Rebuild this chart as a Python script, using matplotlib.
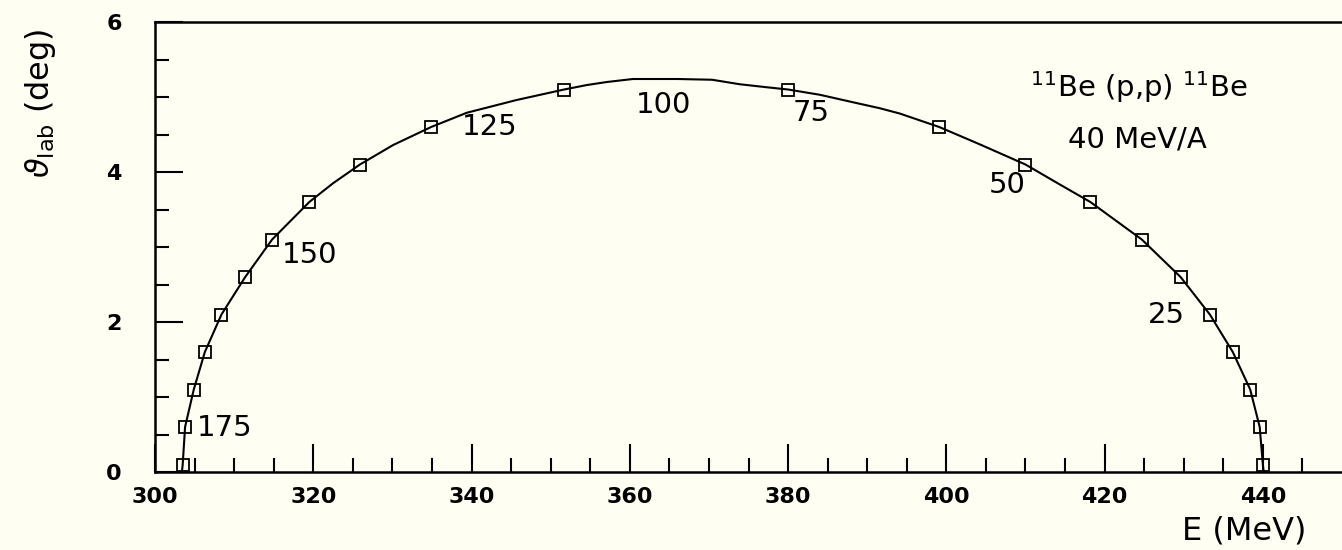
import numpy as np
import matplotlib.pyplot as plt

# カーブ上の読み取り点 (E [MeV], theta_lab [deg])
curve_e = [303.4, 303.5, 303.8, 304.9, 306.3, 308.4, 311.4, 314.8, 319.5, 322.5,
           325.9, 330.1, 334.9, 339.4, 345.7, 351.7, 354.6, 357.1, 360.4, 366.0,
           370.4, 373.9, 377.3, 380.0, 384.0, 388.2, 391.6, 394.1, 399.1, 404.2,
           410.0, 414.4, 418.2, 424.7, 429.6, 433.3, 436.2, 438.4, 439.6, 440.0,
           440.1]
curve_theta = [0.0, 0.1, 0.6, 1.1, 1.6, 2.1, 2.6, 3.1, 3.6, 3.85,
               4.1, 4.36, 4.6, 4.79, 4.96, 5.1, 5.16, 5.2, 5.24, 5.24,
               5.23, 5.17, 5.13, 5.1, 5.03, 4.93, 4.85, 4.78, 4.6, 4.37,
               4.1, 3.83, 3.6, 3.1, 2.6, 2.1, 1.6, 1.1, 0.6, 0.1,
               0.0]

# マーカー位置
mark_e = [303.5, 303.8, 304.9, 306.3, 308.4, 311.4, 314.8, 319.5, 325.9, 334.9, 351.7,
          380.0, 399.1, 410.0, 418.2, 424.7, 429.6, 433.3, 436.2, 438.4, 439.6, 440.0]
mark_theta = [0.1, 0.6, 1.1, 1.6, 2.1, 2.6, 3.1, 3.6, 4.1, 4.6, 5.1,
              5.1, 4.6, 4.1, 3.6, 3.1, 2.6, 2.1, 1.6, 1.1, 0.6, 0.1]

# 重心系角度のラベル
cm_labels = ['175', '150', '125', '100', '75', '50', '25']
cm_label_e = [305.3, 316.0, 338.8, 360.7, 380.6, 405.3, 425.5]
cm_label_theta = [0.48, 2.79, 4.49, 4.79, 4.68, 3.72, 1.99]

bg = '#fefef3'
fig = plt.figure(figsize=(13.42, 5.5), dpi=100, facecolor=bg)
ax = fig.add_axes([155 / 1342, 1 - 472 / 550, 1 - 155 / 1342, 450 / 550])
ax.set_facecolor(bg)

# カーブとマーカー
ax.plot(curve_e, curve_theta, color='black', lw=1.5)
ax.plot(mark_e, mark_theta, linestyle='none', marker='s', markersize=9,
        markerfacecolor='none', markeredgecolor='black', markeredgewidth=1.3)

for lab, xe, yt in zip(cm_labels, cm_label_e, cm_label_theta):
    ax.text(xe, yt, lab, fontsize=21, ha='left', va='baseline')

ax.text(410.6, 5.0, r'$^{11}$Be (p,p) $^{11}$Be', fontsize=21, ha='left', va='baseline')
ax.text(415.4, 4.32, '40 MeV/A', fontsize=21, ha='left', va='baseline')

# 軸
ax.set_xlim(300, 450)
ax.set_ylim(0, 6)
ax.set_xticks([300, 320, 340, 360, 380, 400, 420, 440])
ax.set_xticks(np.arange(305, 450, 5), minor=True)
ax.set_yticks([0, 2, 4, 6])
ax.set_yticks(np.arange(0.5, 6, 0.5), minor=True)
ax.tick_params(which='both', direction='in', width=1.5, color='black')
ax.tick_params(which='major', length=20)
ax.tick_params(which='minor', length=10)
ax.tick_params(axis='x', pad=11, labelsize=16)
ax.tick_params(axis='y', pad=24, labelsize=16)
for t in ax.get_xticklabels() + ax.get_yticklabels():
    t.set_fontweight('bold')

ax.spines['right'].set_visible(False)
for s in ['left', 'bottom', 'top']:
    ax.spines[s].set_linewidth(1.8)

fig.text(40 / 1342, 1 - 28 / 550, r'$\vartheta_{\rm lab}$ (deg)', fontsize=23,
         rotation=90, ha='center', va='top')
fig.text(1182 / 1342, 1 - 540 / 550, 'E (MeV)', fontsize=23, ha='left', va='baseline')

fig.savefig('out.png', dpi=100, facecolor=bg)
